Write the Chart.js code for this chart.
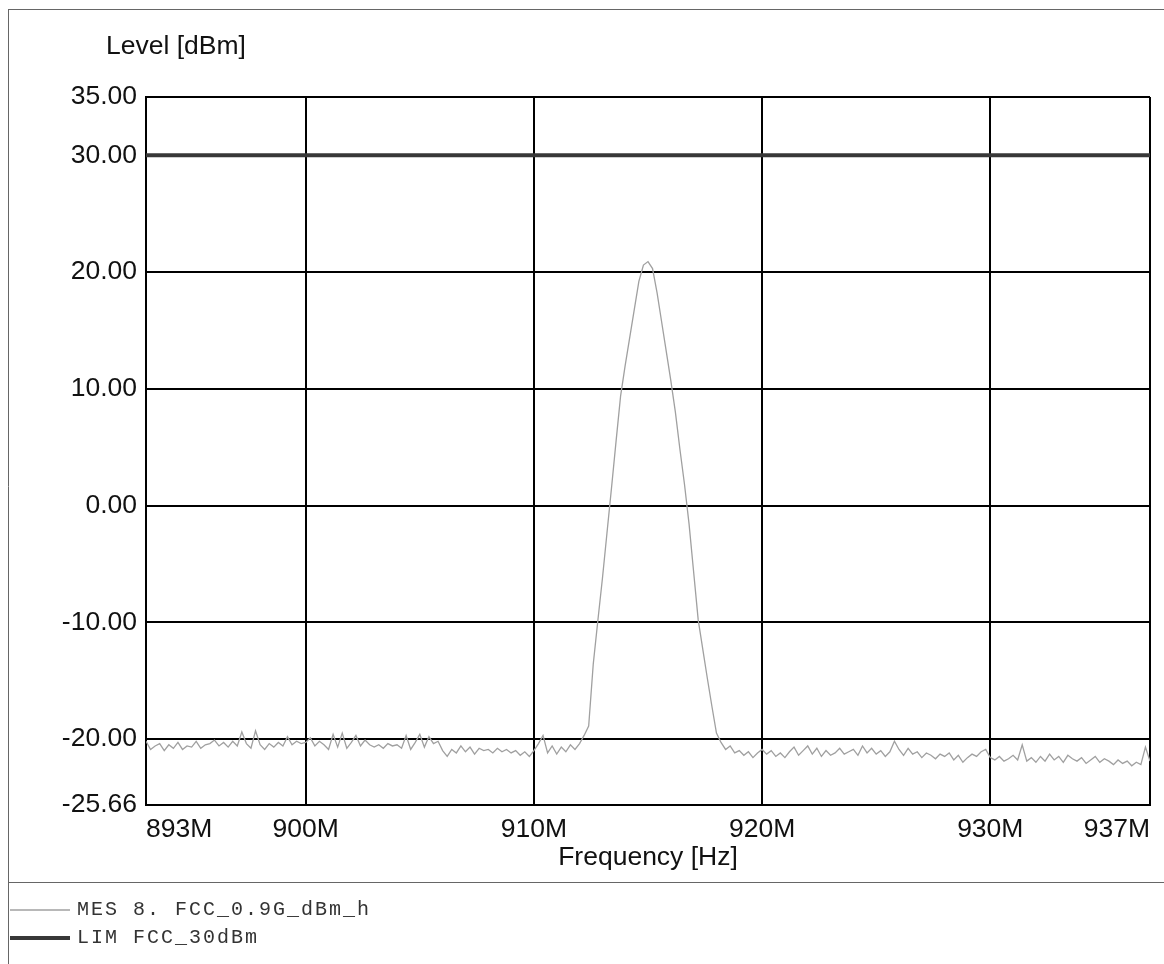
<!DOCTYPE html>
<html>
<head>
<meta charset="utf-8">
<script src="https://cdn.jsdelivr.net/npm/chart.js@4/dist/chart.umd.min.js"></script>
<style>
  html, body { margin: 0; padding: 0; background: #fff; }
  #wrap { width: 1164px; height: 964px; position: relative; }
</style>
</head>
<body>
<div id="wrap"><canvas id="spectrum"></canvas></div>
<script>
// sweep: 893 MHz .. 937 MHz, one reading every 0.2 MHz
const freqStart = 893;
const freqStep = 0.2;
const mesLevels = [
  -20.2, -20.9, -20.6, -20.4, -21.0,   // 893
  -20.5, -20.8, -20.3, -20.9, -20.6,   // 894
  -20.7, -20.2, -20.8, -20.5, -20.4,   // 895
  -20.1, -20.6, -20.3, -20.7, -20.2,   // 896
  -20.6, -19.4, -20.4, -20.8, -19.3,   // 897
  -20.5, -20.9, -20.4, -20.7, -20.3,   // 898
  -20.6, -19.8, -20.5, -20.2, -20.4,   // 899
  -20.3, -19.9, -20.6, -20.2, -20.5,   // 900
  -20.9, -19.6, -20.7, -19.5, -20.8,   // 901
  -20.3, -19.7, -20.6, -20.1, -20.5,   // 902
  -20.7, -20.5, -20.8, -20.4, -20.6,   // 903
  -20.5, -20.8, -19.7, -20.9, -20.3,   // 904
  -19.6, -20.7, -19.8, -20.4, -20.2,   // 905
  -21.0, -21.5, -20.9, -21.2, -20.6,   // 906
  -21.1, -20.7, -21.3, -20.8, -21.0,   // 907
  -20.9, -21.2, -20.8, -21.1, -20.9,   // 908
  -21.2, -21.0, -21.4, -21.1, -21.5,   // 909
  -21.0, -20.4, -19.7, -21.2, -20.6,   // 910
  -21.3, -20.7, -21.1, -20.5, -20.9,   // 911
  -20.4, -19.7, -18.9, -13.6,  -9.9,   // 912
   -6.3,  -2.4,   1.5,   5.5,   9.4,   // 913
   12.0,  14.4,  16.8,  19.2,  20.6,   // 914
   20.9,  20.3,  18.2,  15.7,  13.2,   // 915
   10.7,   8.0,   4.8,   1.8,  -1.6,   // 916
   -5.7,  -9.8, -12.3, -14.8, -17.2,   // 917
  -19.5, -20.3, -20.9, -20.6, -21.2,   // 918
  -21.0, -21.4, -21.1, -21.6, -21.2,   // 919
  -20.9, -21.3, -21.0, -21.5, -21.2,   // 920
  -21.6, -21.1, -20.7, -21.4, -21.0,   // 921
  -20.6, -21.3, -20.8, -21.5, -21.0,   // 922
  -21.4, -21.2, -20.8, -21.3, -21.1,   // 923
  -20.9, -21.4, -20.6, -21.2, -20.8,   // 924
  -21.3, -21.0, -21.5, -21.1, -20.2,   // 925
  -20.9, -21.4, -20.8, -21.3, -21.1,   // 926
  -21.6, -21.2, -21.4, -21.7, -21.3,   // 927
  -21.5, -21.2, -21.8, -21.4, -22.0,   // 928
  -21.6, -21.3, -21.5, -21.1, -20.9,   // 929
  -21.6, -21.8, -21.5, -21.9, -21.7,   // 930
  -21.4, -21.8, -20.5, -21.9, -21.6,   // 931
  -22.0, -21.5, -21.9, -21.3, -21.8,   // 932
  -21.5, -22.0, -21.4, -21.7, -21.9,   // 933
  -21.6, -22.1, -21.8, -21.5, -22.0,   // 934
  -21.7, -21.9, -22.2, -21.8, -22.1,   // 935
  -21.9, -22.3, -22.0, -22.2, -20.7,   // 936
  -21.9                                // 937
];

const limFreqs  = [893, 937];
const limLevels = [30, 30];

const xTicks = [893, 900, 910, 920, 930, 937];
const yTicks = [35, 30, 20, 10, 0, -10, -20, -25.66];

const legendRows = [
  { name: 'MES', label: '8. FCC_0.9G_dBm_h' },
  { name: 'LIM', label: 'FCC_30dBm' }
];

const mesPoints = mesLevels.map((v, i) => ({ x: +(freqStart + i * freqStep).toFixed(2), y: v }));
const limPoints = limFreqs.map((f, i) => ({ x: f, y: limLevels[i] }));

const sansFont = { family: '"Liberation Sans", Arial, sans-serif', size: 26.5 };
const mesColor = '#a0a0a0';
const limColor = '#383838';

// frame, axis titles and the legend block underneath
const pagePlugin = {
    id: 'page',
    afterDraw(chart) {
        const ctx = chart.ctx;
        const area = chart.chartArea;
        ctx.save();

        ctx.strokeStyle = '#666';
        ctx.lineWidth = 1;
        ctx.beginPath();
        ctx.moveTo(8, 9.5);   ctx.lineTo(1164, 9.5);
        ctx.moveTo(8.5, 9);   ctx.lineTo(8.5, 964);
        ctx.moveTo(8, 882.5); ctx.lineTo(1164, 882.5);
        ctx.stroke();

        ctx.fillStyle = '#111';
        ctx.font = '26.5px "Liberation Sans", Arial, sans-serif';
        ctx.textBaseline = 'middle';
        ctx.textAlign = 'left';
        ctx.fillText('Level [dBm]', 106, 47);
        ctx.textAlign = 'center';
        ctx.fillText('Frequency [Hz]', (area.left + area.right) / 2, 858);

        // thin courier-like legend: smaller glyphs, same pitch
        ctx.font = '20px "Liberation Mono", "Courier New", monospace';
        ctx.letterSpacing = '2px';
        ctx.fillStyle = '#333';
        ctx.textAlign = 'left';
        legendRows.forEach((row, i) => {
            const y = 910 + i * 28;
            ctx.strokeStyle = i === 0 ? mesColor : limColor;
            ctx.lineWidth = i === 0 ? 1.3 : 4;
            ctx.beginPath();
            ctx.moveTo(10, y);
            ctx.lineTo(70, y);
            ctx.stroke();
            ctx.fillText(row.name, 77, y);
            ctx.fillText(row.label, 133, y);
        });
        ctx.restore();
    }
};

new Chart(document.getElementById('spectrum'), {
    type: 'line',
    data: {
        datasets: [
            {
                label: 'MES',
                data: mesPoints,
                borderColor: mesColor,
                borderWidth: 1.3,
                pointRadius: 0,
                tension: 0
            },
            {
                label: 'LIM',
                data: limPoints,
                borderColor: limColor,
                borderWidth: 4,
                pointRadius: 0
            }
        ]
    },
    options: {
        responsive: true,
        maintainAspectRatio: false,
        animation: false,
        layout: { padding: { left: 0, top: 97, right: 14, bottom: 119 } },
        plugins: { legend: { display: false }, tooltip: { enabled: false } },
        scales: {
            x: {
                type: 'linear',
                min: 893,
                max: 937,
                afterBuildTicks: s => { s.ticks = xTicks.map(v => ({ value: v })); },
                afterFit: s => { s.height = 40; },
                grid: { color: '#000', lineWidth: 2, drawTicks: false },
                border: { color: '#000', width: 2 },
                ticks: {
                    align: 'inner',
                    padding: 9,
                    maxRotation: 0,
                    color: '#111',
                    font: sansFont,
                    callback: v => v + 'M'
                }
            },
            y: {
                min: -25.66,
                max: 35,
                afterBuildTicks: s => { s.ticks = yTicks.map(v => ({ value: v })); },
                afterFit: s => { s.width = 146; },
                grid: { color: '#000', lineWidth: 2, drawTicks: false },
                border: { color: '#000', width: 2 },
                ticks: {
                    padding: 9,
                    color: '#111',
                    font: sansFont,
                    callback: v => Number(v).toFixed(2)
                }
            }
        }
    },
    plugins: [pagePlugin]
});
</script>
</body>
</html>
